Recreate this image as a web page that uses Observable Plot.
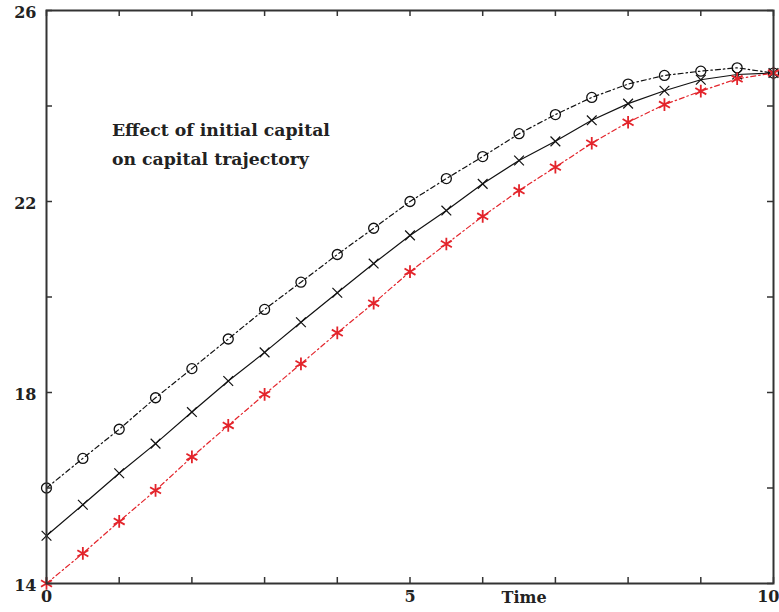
<!DOCTYPE html>
<html><head><meta charset="utf-8">
<script src="https://cdn.jsdelivr.net/npm/d3@7"></script>
<script src="https://cdn.jsdelivr.net/npm/@observablehq/plot@0.6"></script>
<style>body{margin:0;background:#fff}#chart svg{display:block}</style>
</head><body><div id="chart"></div>
<script>
const time = [0,0.5,1,1.5,2,2.5,3,3.5,4,4.5,5,5.5,6,6.5,7,7.5,8,8.5,9,9.5,10];
const capitalHigh = [16.0,16.62,17.23,17.89,18.5,19.12,19.74,20.31,20.89,21.44,22.0,22.48,22.94,23.42,23.82,24.18,24.46,24.64,24.73,24.8,24.69];
const capitalMid  = [15.0,15.65,16.31,16.93,17.59,18.24,18.84,19.47,20.09,20.70,21.29,21.81,22.37,22.86,23.26,23.70,24.05,24.32,24.55,24.66,24.69];
const capitalLow  = [14.0,14.63,15.30,15.95,16.65,17.31,17.96,18.60,19.25,19.87,20.53,21.11,21.69,22.23,22.72,23.22,23.66,24.03,24.31,24.57,24.69];
const xTicks = [0,1,2,3,4,5,6,7,8,9,10];
const xTickLabels = [0,5];
const xEndLabel = [10];
const yTicks = [14,16,18,20,22,24,26];
const yTickLabels = [14,18,22,26];
const annotation = "Effect of initial capital\non capital trajectory";
const annotationAt = {x: 0.9, y: 23.82};
const xTitle = "Time";
const xTitleAt = 6.57;

const W = 779, H = 612, ML = 46, MR = 6, MT = 10, MB = 29;
const PW = W - ML - MR, PH = H - MT - MB;
const rows = (vals) => time.map((t, i) => ({t, v: vals[i]}));
const high = rows(capitalHigh), mid = rows(capitalMid), low = rows(capitalLow);
const red = "#e3242b";
const axisColor = "#333";

const chart = Plot.plot({
  width: W, height: H,
  marginLeft: ML, marginRight: MR, marginTop: MT, marginBottom: MB,
  x: {domain: [0, 10]},
  y: {domain: [14, 26]},
  style: {fontFamily: "DejaVu Serif", fontSize: "16px", fontWeight: "bold", background: "#fff", color: "#222"},
  marks: [
    Plot.line(high, {x: "t", y: "v", stroke: "#111", strokeWidth: 1.2, strokeDasharray: "5,3,1.5,3"}),
    Plot.line(mid, {x: "t", y: "v", stroke: "#111", strokeWidth: 1.2}),
    Plot.line(low, {x: "t", y: "v", stroke: red, strokeWidth: 1.2, strokeDasharray: "5,3,1.5,3"}),
    Plot.dot(high, {x: "t", y: "v", r: 5, stroke: "#111", strokeWidth: 1.3, fill: "none"}),
    Plot.dot(mid, {x: "t", y: "v", symbol: "times", r: 4.5, stroke: "#111", strokeWidth: 1.2}),
    Plot.dot(low, {x: "t", y: "v", symbol: "asterisk", r: 6, stroke: red, strokeWidth: 1.8}),
    Plot.frame({stroke: axisColor, strokeWidth: 2}),
    Plot.tickX(xTicks, {x: d => d, insetTop: PH - 6, stroke: axisColor, strokeWidth: 1.5}),
    Plot.tickX(xTicks, {x: d => d, insetBottom: PH - 6, stroke: axisColor, strokeWidth: 1.5}),
    Plot.tickY(yTicks, {y: d => d, insetRight: PW - 6, stroke: axisColor, strokeWidth: 1.5}),
    Plot.tickY(yTicks, {y: d => d, insetLeft: PW - 6, stroke: axisColor, strokeWidth: 1.5}),
    Plot.axisX(xTickLabels, {tickSize: 0, tickPadding: 7, label: null, fontSize: 16, fontWeight: "bold"}),
    Plot.axisX(xEndLabel, {tickSize: 0, tickPadding: 7, label: null, textAnchor: "end", dx: 6, fontSize: 16, fontWeight: "bold"}),
    Plot.axisY(yTickLabels, {tickSize: 0, tickPadding: 10, label: null, dy: 2, fontSize: 16, fontWeight: "bold"}),
    Plot.text([xTitle], {x: () => xTitleAt, frameAnchor: "bottom", lineAnchor: "top", dy: 8, text: d => d, fontSize: 16, fontWeight: "bold", letterSpacing: 1.5}),
    Plot.text([annotation], {x: () => annotationAt.x, y: () => annotationAt.y, text: d => d, textAnchor: "start", lineAnchor: "top", lineHeight: 1.72, fontSize: 17.3, fontWeight: "bold", fill: "#222"})
  ]
});
document.getElementById("chart").append(chart);
</script>
</body></html>
